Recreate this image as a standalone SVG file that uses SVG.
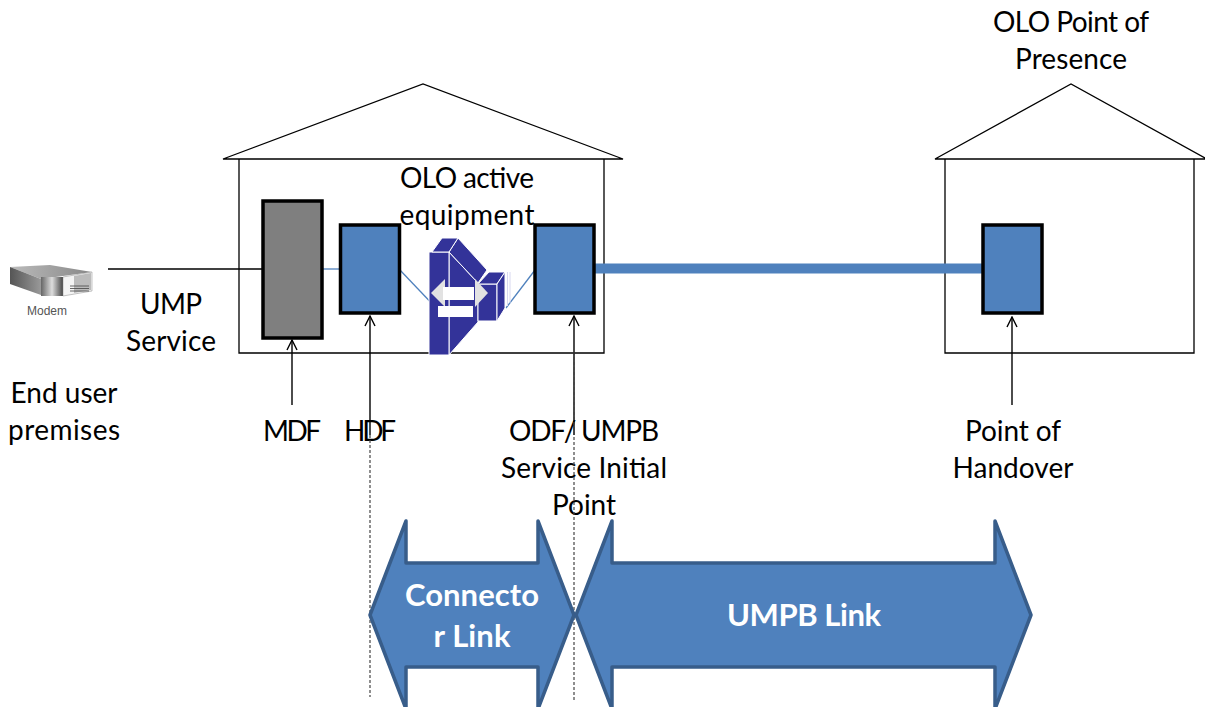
<svg xmlns="http://www.w3.org/2000/svg" width="1205" height="707" viewBox="0 0 1205 707">
<defs>
<linearGradient id="mg" x1="0" x2="1" y1="0" y2="0"><stop offset="0" stop-color="#666"/><stop offset=".5" stop-color="#ddd"/><stop offset="1" stop-color="#444"/></linearGradient>
<linearGradient id="ms" x1="0" x2="1" y1="0" y2="0"><stop offset="0" stop-color="#555"/><stop offset="1" stop-color="#999"/></linearGradient>
<linearGradient id="mt" x1="0" x2="1" y1="0" y2="0"><stop offset="0" stop-color="#bbb"/><stop offset="1" stop-color="#888"/></linearGradient>
<marker id="ah" viewBox="0 0 12 12" refX="11" refY="6" markerWidth="12" markerHeight="12" markerUnits="userSpaceOnUse" orient="auto"><path d="M1 1L11 6L1 11" fill="none" stroke="#000" stroke-width="1.4"/></marker>
</defs>
<style>
text{font-family:Lato,"Open Sans","Liberation Sans",sans-serif;font-size:28px;fill:#000;text-anchor:middle}
.house{fill:#fff;stroke:#000;stroke-width:1.3}
.box{fill:#4f81bd;stroke:#000;stroke-width:3.5}
.thin{stroke:#000;stroke-width:1.4;fill:none}
.blue{stroke:#4f81bd;stroke-width:1.3;fill:none}
.dash{stroke:#444;stroke-width:1.2;stroke-dasharray:3 2;fill:none}
.big{fill:#4f81bd;stroke:#385d8a;stroke-width:3.5;stroke-linejoin:round}
.lbl{fill:#fff;font-weight:700;font-size:31px}
.eq{fill:#333399;stroke:#fff;stroke-width:1}
</style>
<g id="house-left"><path class="house" d="M239 159V353H604V159"/><path class="house" d="M223 159L423 84L623 159Z"/></g>
<g id="house-right"><path class="house" d="M945 159V353H1194V159"/><path class="house" d="M935 159L1071 84L1207 159Z"/></g>
<g id="connectors">
<path class="thin" d="M108 269H262"/>
<path class="blue" d="M322 269H340"/>
<path class="blue" d="M399 269L439 311"/>
<path class="blue" d="M535 270L506 308"/>
<path d="M594 268.500H983" stroke="#4f81bd" stroke-width="10" fill="none"/>
<path class="thin" d="M292 405V340" marker-end="url(#ah)"/>
<path class="thin" d="M370 435V316" marker-end="url(#ah)"/>
<path class="thin" d="M574 435V316" marker-end="url(#ah)"/>
<path class="thin" d="M1012 405V317" marker-end="url(#ah)"/>
</g>
<g id="mdf"><rect class="box" x="263" y="201" width="59" height="137" style="fill:#7f7f7f"/><text x="292" y="441" textLength="58">MDF</text></g>
<g id="hdf"><rect class="box" x="340.500" y="225" width="59" height="88"/><text x="370" y="441" textLength="52">HDF</text></g>
<g id="odf"><rect class="box" x="535" y="225" width="59" height="88"/><text x="584" y="441" textLength="150">ODF/ UMPB</text><text x="584" y="478" textLength="166">Service Initial</text><text x="584" y="515" textLength="64">Point</text></g>
<g id="poh"><rect class="box" x="983" y="225" width="59" height="88"/><text x="1013" y="441" textLength="96">Point of</text><text x="1013" y="478" textLength="121">Handover</text></g>
<g id="modem">
<path d="M10 267L50 265L92 272L41 279Z" fill="url(#mt)"/>
<path d="M10 267L41 279V295L10 284Z" fill="url(#ms)"/>
<rect x="41" y="277" width="22" height="19" fill="url(#mg)"/>
<path d="M63 277L92 272V291L63 296Z" fill="#f4f4f4" stroke="#888" stroke-width=".5"/>
<path d="M74 276L91 273V290L74 293Z" fill="#bbb"/>
<path d="M70 286H89M70 288.500H89M70 291H89" stroke="#444" stroke-width=".8"/>
<text x="47" y="315" style="font-size:12px;fill:#555;font-family:'Liberation Sans',sans-serif">Modem</text>
</g>
<g id="equipment">
<path class="eq" d="M449 252L478 283V322L449 355Z"/>
<path class="eq" d="M449 252L458 238L487 270L478 283Z"/>
<path class="eq" d="M429 252H449V355H429Z"/>
<path class="eq" d="M432 252L442 238H458L449 252Z"/>
<path class="eq" d="M478 284H497V321H478Z"/>
<path class="eq" d="M478 284L489 272H505L497 284Z"/>
<path class="eq" d="M497 284L505 272V308L497 321Z"/>
<path d="M507.500 272V306M510 272V303" stroke="#d8d8f0" stroke-width="1" fill="none"/>
<path d="M431 293L445 279V307Z" fill="#e2e2e2"/>
<path d="M488 293L475 279V307Z" fill="#e2e2e2"/>
<rect x="443" y="287" width="31" height="13" fill="#fff"/>
<rect x="438" y="306" width="35" height="11" fill="#fff"/>
<text x="467" y="188" textLength="134">OLO active</text><text x="467" y="225" textLength="135">equipment</text>
</g>
<g id="labels">
<text x="1071" y="32" textLength="156">OLO Point of</text><text x="1071" y="69" textLength="112">Presence</text>
<text x="171" y="314" textLength="62">UMP</text><text x="171" y="351" textLength="90">Service</text>
<text x="64" y="403" textLength="107">End user</text><text x="64" y="440" textLength="112">premises</text>
</g>
<g id="guides"><path class="dash" d="M370 435V697"/><path class="dash" d="M574 352V702"/></g>
<g id="connector-link"><path class="big" d="M370 615L406 521V563H538V521L574 615L538 709V667H406V709Z"/><text class="lbl" x="472" y="606" textLength="134">Connecto</text><text class="lbl" x="472" y="647" textLength="77">r Link</text></g>
<g id="umpb-link"><path class="big" d="M576 615L612 521V563H995V521L1031 615L995 709V667H612V709Z"/><text class="lbl" x="804" y="626" textLength="154">UMPB Link</text></g>
</svg>
